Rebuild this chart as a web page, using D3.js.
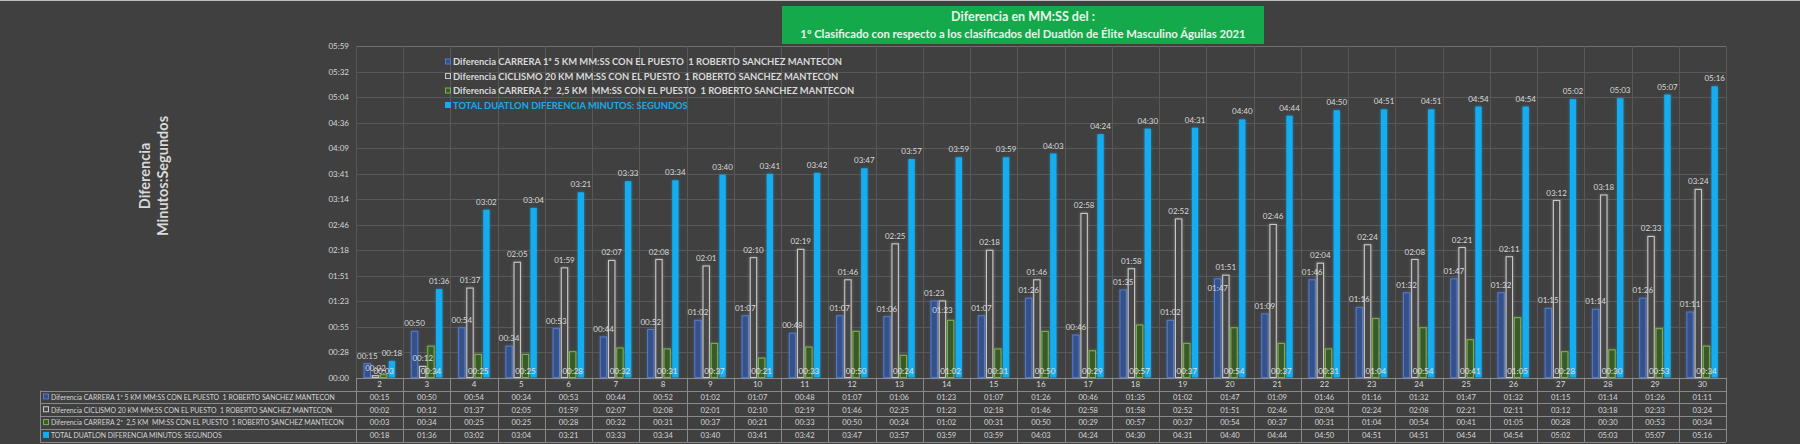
<!DOCTYPE html>
<html>
<head>
<meta charset="utf-8">
<script src="https://cdn.jsdelivr.net/npm/d3@7"></script>
<style>
  html, body { margin: 0; padding: 0; background: #404040; }
  svg { display: block; font-family: Lato, "Open Sans", sans-serif; }
  svg text { white-space: pre; }
</style>
</head>
<body>
<div id="chart"></div>
<script>
// Puestos (clasificados) 2..30
const puestos = ["2","3","4","5","6","7","8","9","10","11","12","13","14","15","16","17","18","19","20","21","22","23","24","25","26","27","28","29","30"];

const carrera1 = ["00:15","00:50","00:54","00:34","00:53","00:44","00:52","01:02","01:07","00:48","01:07","01:06","01:23","01:07","01:26","00:46","01:35","01:02","01:47","01:09","01:46","01:16","01:32","01:47","01:32","01:15","01:14","01:26","01:11"];
const ciclismo = ["00:02","00:12","01:37","02:05","01:59","02:07","02:08","02:01","02:10","02:19","01:46","02:25","01:23","02:18","01:46","02:58","01:58","02:52","01:51","02:46","02:04","02:24","02:08","02:21","02:11","03:12","03:18","02:33","03:24"];
const carrera2 = ["00:03","00:34","00:25","00:25","00:28","00:32","00:31","00:37","00:21","00:33","00:50","00:24","01:02","00:31","00:50","00:29","00:57","00:37","00:54","00:37","00:31","01:04","00:54","00:41","01:05","00:28","00:30","00:53","00:34"];
const total = ["00:18","01:36","03:02","03:04","03:21","03:33","03:34","03:40","03:41","03:42","03:47","03:57","03:59","03:59","04:03","04:24","04:30","04:31","04:40","04:44","04:50","04:51","04:51","04:54","04:54","05:02","05:03","05:07","05:16"];

const seriesNames = [
  "Diferencia CARRERA 1ª 5 KM MM:SS CON EL PUESTO  1 ROBERTO SANCHEZ MANTECON",
  "Diferencia CICLISMO 20 KM MM:SS CON EL PUESTO  1 ROBERTO SANCHEZ MANTECON",
  "Diferencia CARRERA 2ª  2,5 KM  MM:SS CON EL PUESTO  1 ROBERTO SANCHEZ MANTECON",
  "TOTAL DUATLON DIFERENCIA MINUTOS: SEGUNDOS"
];

// labels that Excel moved inside the bar because they clashed (serie, puesto)
const labelsInside = [["ci", "14"], ["c1", "20"]];

// Excel axis: major unit 0.00032 days = 27.648 s
const tickStep = 27.648;
const tickCount = 14;

const toSec = s => { const [m, ss] = s.split(":").map(Number); return m * 60 + ss; };
const fmt = v => {
  const t = Math.round(v);
  return String(Math.floor(t / 60)).padStart(2, "0") + ":" + String(t % 60).padStart(2, "0");
};

const series = [
  { key: "c1", name: seriesNames[0], values: carrera1, fill: "#34518a", stroke: "#5479c9", legendText: "#d9d9d9", labelPos: "top" },
  { key: "ci", name: seriesNames[1], values: ciclismo, fill: "#474747", stroke: "#c9c9c9", legendText: "#d9d9d9", labelPos: "top" },
  { key: "c2", name: seriesNames[2], values: carrera2, fill: "#3b5a2a", stroke: "#7cb04f", legendText: "#d9d9d9", labelPos: "base" },
  { key: "t",  name: seriesNames[3], values: total, fill: "#13acf0", stroke: "none", legendText: "#19a9ee", labelPos: "top" }
];

const W = 1800, H = 444;
const plot = { left: 356, right: 1726, top: 46.2, bottom: 377.5 };

const svg = d3.select("#chart").append("svg")
  .attr("width", W)
  .attr("height", H);

svg.append("rect").attr("width", W).attr("height", H).attr("fill", "#404040");
svg.append("line")
  .attr("x1", 0).attr("x2", W).attr("y1", 0.5).attr("y2", 0.5)
  .attr("stroke", "#bdbdbd").attr("stroke-width", 1);

// glow filter (Excel "resplandor")
const defs = svg.append("defs");
const glow = defs.append("filter").attr("id", "glow")
  .attr("x", "-60%").attr("y", "-10%").attr("width", "220%").attr("height", "120%");
glow.append("feGaussianBlur").attr("in", "SourceGraphic").attr("stdDeviation", 1.6).attr("result", "blur");
glow.append("feComponentTransfer").attr("in", "blur").attr("result", "soft")
  .append("feFuncA").attr("type", "linear").attr("slope", 0.55);
const merge = glow.append("feMerge");
merge.append("feMergeNode").attr("in", "soft");
merge.append("feMergeNode").attr("in", "SourceGraphic");

// scales
const x = d3.scaleBand().domain(puestos).range([plot.left, plot.right]).padding(0);
const x1 = d3.scaleBand().domain(series.map(s => s.key))
  .range([x.bandwidth() / 2 - 16, x.bandwidth() / 2 + 16])
  .paddingInner(0.1);
const y = d3.scaleLinear().domain([0, tickStep * (tickCount - 1)]).range([plot.bottom, plot.top]);
const tickVals = d3.range(tickCount).map(i => i * tickStep);

// gridlines
const grid = svg.append("g");
grid.selectAll("line.h").data(tickVals).enter().append("line")
  .attr("class", "h")
  .attr("x1", plot.left).attr("x2", plot.right)
  .attr("y1", d => Math.round(y(d)) + 0.5).attr("y2", d => Math.round(y(d)) + 0.5)
  .attr("stroke", d => d === tickVals[tickVals.length - 1] ? "#6e6e6e" : "#585858")
  .attr("stroke-width", 1);
grid.selectAll("line.v").data(puestos.concat(["end"])).enter().append("line")
  .attr("class", "v")
  .attr("x1", d => Math.round(d === "end" ? plot.right : x(d)) + 0.5)
  .attr("x2", d => Math.round(d === "end" ? plot.right : x(d)) + 0.5)
  .attr("y1", plot.top).attr("y2", plot.bottom)
  .attr("stroke", "#585858").attr("stroke-width", 1);

// y axis
const yAxis = d3.axisLeft(y).tickValues(tickVals).tickFormat(fmt).tickSize(0).tickPadding(7);
const yg = svg.append("g").attr("transform", `translate(${plot.left},0)`).call(yAxis);
yg.select(".domain").remove();
yg.selectAll("text")
  .attr("fill", "#d6d6d6")
  .style("font-size", "8px")
  .style("font-family", "Lato, sans-serif");

// y axis title
const yt = svg.append("text")
  .attr("transform", "translate(153,176) rotate(-90)")
  .attr("text-anchor", "middle")
  .attr("fill", "#d9d9d9")
  .style("font-size", "14.5px")
  .style("font-weight", "bold");
yt.append("tspan").attr("x", 0).attr("dy", "-0.2em").text("Diferencia");
yt.append("tspan").attr("x", 0).attr("dy", "1.2em").text("Minutos:Segundos");

// bars
const groups = svg.append("g").selectAll("g.cat")
  .data(puestos).enter().append("g")
  .attr("class", "cat")
  .attr("transform", d => `translate(${x(d)},0)`);

groups.selectAll("rect")
  .data((d, i) => series.map(s => ({ s, v: toSec(s.values[i]) })))
  .enter().append("rect")
  .attr("x", d => x1(d.s.key) + 0.5)
  .attr("width", x1.bandwidth() - 1)
  .attr("y", d => y(d.v))
  .attr("height", d => plot.bottom - y(d.v))
  .attr("fill", d => d.s.fill)
  .attr("stroke", d => d.s.stroke)
  .attr("stroke-width", 1.1)
  .attr("filter", "url(#glow)");

// data labels
const isInside = (key, cat) => labelsInside.some(([k, c]) => k === key && c === cat);
groups.selectAll("text.lbl")
  .data(cat => {
    const i = puestos.indexOf(cat);
    return series.map(s => ({ s, cat, v: toSec(s.values[i]), txt: s.values[i] }));
  })
  .enter().append("text")
  .attr("class", "lbl")
  .attr("x", d => x1(d.s.key) + x1.bandwidth() / 2)
  .attr("y", d => {
    if (d.s.labelPos === "base") return plot.bottom - 4;
    if (isInside(d.s.key, d.cat)) return y(d.v) + 12;
    return y(d.v) - 5;
  })
  .attr("text-anchor", "middle")
  .attr("fill", d => d.s.labelPos === "base" ? "#e2e2e2" : "#d9d9d9")
  .style("font-size", "8px")
  .text(d => d.txt);

// legend (overlay inside plot)
const legend = svg.append("g").attr("transform", "translate(445,0)");
const legendY = [62, 76.5, 91, 105.5];
series.forEach((s, i) => {
  const g = legend.append("g").attr("transform", `translate(0,${legendY[i]})`);
  g.append("rect")
    .attr("x", 0.5).attr("y", -3).attr("width", 5).attr("height", 5)
    .attr("fill", s.fill)
    .attr("stroke", s.key === "t" ? "#13acf0" : s.stroke)
    .attr("stroke-width", 1);
  g.append("text")
    .attr("x", 8).attr("y", 3)
    .attr("fill", s.legendText)
    .style("font-size", "9.4px")
    .style("font-weight", "bold")
    .text(s.name);
});

// title box
const title = svg.append("g");
title.append("rect")
  .attr("x", 782).attr("y", 6).attr("width", 482).attr("height", 38)
  .attr("fill", "#14a94b");
title.append("text")
  .attr("x", 1023).attr("y", 21)
  .attr("text-anchor", "middle")
  .attr("fill", "#eaf4ea")
  .style("font-size", "12.5px")
  .style("font-weight", "bold")
  .text("Diferencia en MM:SS del :");
title.append("text")
  .attr("x", 1023).attr("y", 38)
  .attr("text-anchor", "middle")
  .attr("fill", "#eaf4ea")
  .style("font-size", "11.3px")
  .style("font-weight", "bold")
  .text("1º Clasificado con respecto a los clasificados del Duatlón de Élite Masculino Águilas 2021");

// data table
const table = svg.append("g");
const tLeft = 40;
const headTop = plot.bottom, headBottom = 390.5;
const rowH = 12.83;
const rowTop = i => headBottom + i * rowH;
const lineCol = "#8a8a8a";

// header row: category numbers
table.selectAll("text.cat").data(puestos).enter().append("text")
  .attr("class", "cat")
  .attr("x", d => x(d) + x.bandwidth() / 2)
  .attr("y", headBottom - 3.5)
  .attr("text-anchor", "middle")
  .attr("fill", "#d9d9d9")
  .style("font-size", "8px")
  .text(d => d);

// horizontal lines
table.append("line")
  .attr("x1", plot.left).attr("x2", plot.right)
  .attr("y1", Math.round(headTop) + 0.5).attr("y2", Math.round(headTop) + 0.5)
  .attr("stroke", lineCol);
table.selectAll("line.hr").data(d3.range(series.length + 1)).enter().append("line")
  .attr("class", "hr")
  .attr("x1", tLeft).attr("x2", plot.right)
  .attr("y1", i => Math.round(rowTop(i)) + 0.5).attr("y2", i => Math.round(rowTop(i)) + 0.5)
  .attr("stroke", lineCol);

// vertical lines
table.selectAll("line.vr").data(puestos.concat(["end"])).enter().append("line")
  .attr("class", "vr")
  .attr("x1", d => Math.round(d === "end" ? plot.right : x(d)) + 0.5)
  .attr("x2", d => Math.round(d === "end" ? plot.right : x(d)) + 0.5)
  .attr("y1", headTop).attr("y2", rowTop(series.length))
  .attr("stroke", lineCol);
table.append("line")
  .attr("x1", tLeft + 0.5).attr("x2", tLeft + 0.5)
  .attr("y1", headBottom).attr("y2", rowTop(series.length))
  .attr("stroke", lineCol);

// row labels + values
series.forEach((s, i) => {
  const cy = rowTop(i) + rowH / 2;
  table.append("rect")
    .attr("x", tLeft + 3.5).attr("y", cy - 3).attr("width", 5).attr("height", 5)
    .attr("fill", s.fill)
    .attr("stroke", s.key === "t" ? "#13acf0" : s.stroke)
    .attr("stroke-width", 1);
  table.append("text")
    .attr("x", tLeft + 11).attr("y", cy + 2.8)
    .attr("fill", "#d4d4d4")
    .style("font-size", "6.9px")
    .text(s.name);
  table.selectAll(null).data(s.values).enter().append("text")
    .attr("x", (d, j) => x(puestos[j]) + x.bandwidth() / 2)
    .attr("y", cy + 2.8)
    .attr("text-anchor", "middle")
    .attr("fill", "#d4d4d4")
    .style("font-size", "7.6px")
    .text(d => d);
});
</script>
</body>
</html>
